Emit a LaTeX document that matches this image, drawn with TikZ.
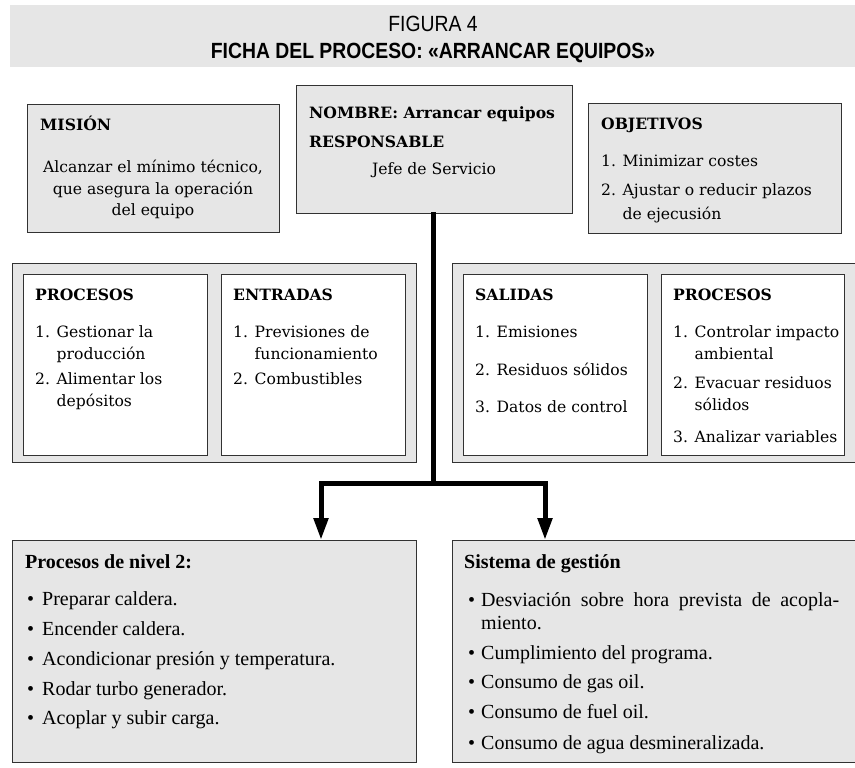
\documentclass[tikz,border=0pt]{standalone}
\usepackage{fontspec}
\usetikzlibrary{arrows.meta}
\setmainfont{DejaVu Serif}
\newfontfamily\botfont{Liberation Serif}
\newfontfamily\titlefont[FakeStretch=0.88]{Liberation Sans}
\definecolor{boxgray}{RGB}{230,230,230}
\definecolor{bordercol}{RGB}{50,50,50}
\newcommand{\msz}{\fontsize{15.6}{18}\selectfont}
\newcommand{\bsz}{\botfont\fontsize{20}{24}\selectfont}
\newcommand{\ind}{\phantom{1. }}
\tikzset{
  graybox/.style={draw=bordercol, line width=1.3pt, fill=boxgray, inner sep=0pt, anchor=north west},
  whitebox/.style={draw=bordercol, line width=1.3pt, fill=white, inner sep=0pt, anchor=north west},
  txt/.style={anchor=base west, inner sep=0pt, font=\msz},
  ctxt/.style={anchor=base, inner sep=0pt, font=\msz},
  btxt/.style={anchor=base west, inner sep=0pt, font=\bsz},
  bul/.style={anchor=base west, inner sep=0pt, font=\bsz},
  link/.style={line width=5pt, draw=black},
  linkarrow/.style={line width=5pt, draw=black, -{Triangle[length=22pt,width=14pt]}}
}
\begin{document}
\begin{tikzpicture}[x=1pt,y=-1pt]
\useasboundingbox (0,0) rectangle (855,768);
% title band
\fill[boxgray] (10,5) rectangle (860,67);
\node[anchor=base, inner sep=0pt, font=\titlefont\fontsize{22}{26}\selectfont] (fig) at (433,32) {FIGURA 4};
\node[anchor=base, inner sep=0pt, font=\titlefont\bfseries\fontsize{22}{26}\selectfont] (ficha) at (433,59) {FICHA DEL PROCESO: «ARRANCAR EQUIPOS»};

% top boxes
\node[graybox, minimum width=252pt, minimum height=128pt] (mision) at (27,104) {};
\node[txt] (misionT) at (40,131) {\bfseries MISIÓN};
\node[ctxt] (mision1) at (153,172) {Alcanzar el mínimo técnico,};
\node[ctxt] (mision2) at (153,194) {que asegura la operación};
\node[ctxt] (mision3) at (153,215) {del equipo};

\node[graybox, minimum width=276pt, minimum height=128pt] (nombre) at (296,85) {};
\node[txt] (nombreT) at (309,118) {\bfseries NOMBRE: Arrancar equipos};
\node[txt] (respT) at (309,147) {\bfseries RESPONSABLE};
\node[ctxt] (jefe) at (434,174) {Jefe de Servicio};

\node[graybox, minimum width=253pt, minimum height=130pt] (objetivos) at (588,103) {};
\node[txt] (objT) at (601,129) {\bfseries OBJETIVOS};
\node[txt] (obj1) at (601,166) {1. Minimizar costes};
\node[txt] (obj2) at (601,195) {2. Ajustar o reducir plazos};
\node[txt] (obj3) at (601,219) {\ind de ejecusión};

% middle row left
\node[graybox, minimum width=404pt, minimum height=199pt] (leftouter) at (12,263) {};
\node[whitebox, minimum width=184pt, minimum height=181pt] (procL) at (23,274) {};
\node[whitebox, minimum width=184pt, minimum height=181pt] (entradas) at (221,274) {};
\node[txt] (procLT) at (35,300) {\bfseries PROCESOS};
\node[txt] (procL1) at (35,337) {1. Gestionar la};
\node[txt] (procL2) at (35,359) {\ind producción};
\node[txt] (procL3) at (35,384) {2. Alimentar los};
\node[txt] (procL4) at (35,406) {\ind depósitos};
\node[txt] (entT) at (233,300) {\bfseries ENTRADAS};
\node[txt] (ent1) at (233,337) {1. Previsiones de};
\node[txt] (ent2) at (233,359) {\ind funcionamiento};
\node[txt] (ent3) at (233,384) {2. Combustibles};

% middle row right
\node[graybox, minimum width=410pt, minimum height=199pt] (rightouter) at (452,263) {};
\node[whitebox, minimum width=184pt, minimum height=181pt] (salidas) at (463,274) {};
\node[whitebox, minimum width=183pt, minimum height=181pt] (procR) at (661,274) {};
\node[txt] (salT) at (475,300) {\bfseries SALIDAS};
\node[txt] (sal1) at (475,337) {1. Emisiones};
\node[txt] (sal2) at (475,375) {2. Residuos sólidos};
\node[txt] (sal3) at (475,412) {3. Datos de control};
\node[txt] (procRT) at (673,300) {\bfseries PROCESOS};
\node[txt] (procR1) at (673,337) {1. Controlar impacto};
\node[txt] (procR2) at (673,359) {\ind ambiental};
\node[txt] (procR3) at (673,388) {2. Evacuar residuos};
\node[txt] (procR4) at (673,410) {\ind sólidos};
\node[txt] (procR5) at (673,442) {3. Analizar variables};

% bottom boxes
\node[graybox, minimum width=404pt, minimum height=222pt] (niv2) at (12,540) {};
\node[btxt] (niv2T) at (25,568) {\bfseries Procesos de nivel 2:};
\node[bul] (nb1) at (27,605) {•}; \node[btxt] (n1) at (42,605) {Preparar caldera.};
\node[bul] (nb2) at (27,635) {•}; \node[btxt] (n2) at (42,635) {Encender caldera.};
\node[bul] (nb3) at (27,665) {•}; \node[btxt] (n3) at (42,665) {Acondicionar presión y temperatura.};
\node[bul] (nb4) at (27,695) {•}; \node[btxt] (n4) at (42,695) {Rodar turbo generador.};
\node[bul] (nb5) at (27,724) {•}; \node[btxt] (n5) at (42,724) {Acoplar y subir carga.};

\node[graybox, minimum width=410pt, minimum height=222pt] (sist) at (452,540) {};
\node[btxt] (sistT) at (464,568) {\bfseries Sistema de gestión};
\node[bul] (sb1) at (468,606) {•}; \node[btxt] (s1) at (481,606) {\makebox[358pt][s]{Desviación sobre hora prevista de acopla-}};
\node[btxt] (s1b) at (481,629) {miento.};
\node[bul] (sb2) at (468,659) {•}; \node[btxt] (s2) at (481,659) {Cumplimiento del programa.};
\node[bul] (sb3) at (468,688) {•}; \node[btxt] (s3) at (481,688) {Consumo de gas oil.};
\node[bul] (sb4) at (468,718) {•}; \node[btxt] (s4) at (481,718) {Consumo de fuel oil.};
\node[bul] (sb5) at (468,749) {•}; \node[btxt] (s5) at (481,749) {Consumo de agua desmineralizada.};

% connectors
\coordinate (j) at (433.5,483);
\coordinate (aL) at (321,540);
\coordinate (aR) at (545,540);
\draw[link, line cap=rect] (nombre.south -| j) -- (j);
\draw[linkarrow] (j) -| (aL);
\draw[linkarrow] (j) -| (aR);
\end{tikzpicture}
\end{document}
